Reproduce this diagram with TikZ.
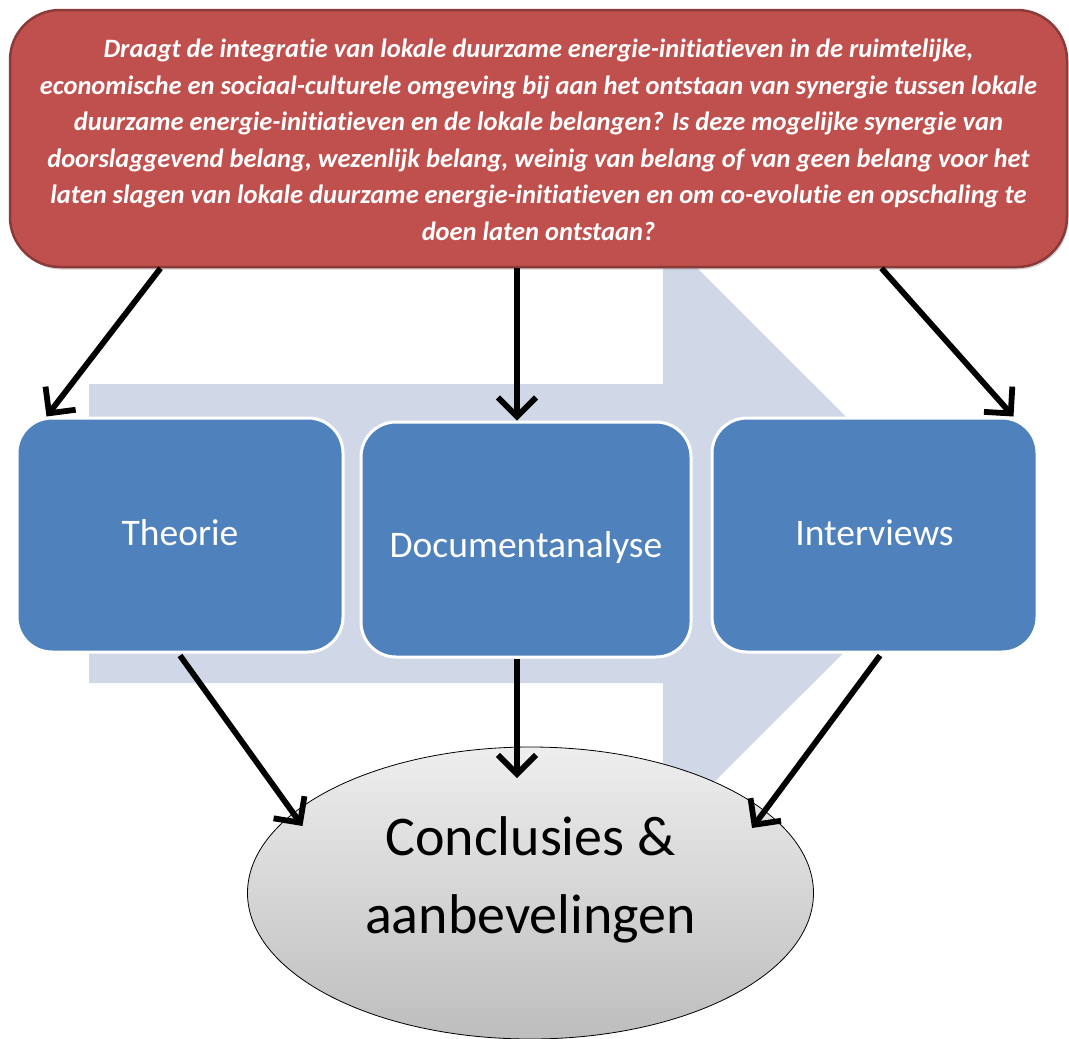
\documentclass[tikz,border=0pt]{standalone}
\usepackage{fontspec}
\setmainfont{Carlito}[Ligatures=NoCommon]
\usetikzlibrary{arrows.meta,shapes.geometric,shadows}
\definecolor{redfill}{HTML}{C0504D}
\definecolor{redborder}{HTML}{8C3A38}
\definecolor{bluefill}{HTML}{4F81BD}
\definecolor{bgarrow}{HTML}{D0D8E8}
\definecolor{elltop}{HTML}{EEEEEE}
\definecolor{ellbot}{HTML}{BDBDBD}
\tikzset{
  question/.style={draw=redborder, line width=2.5pt, fill=redfill, rounded corners=50pt,
    minimum width=1057pt, minimum height=257pt, inner sep=0pt, align=center,
    text=white, font=\fontsize{26.5}{36.5}\selectfont\bfseries\itshape,
    drop shadow={shadow xshift=1.5pt, shadow yshift=-2.5pt, opacity=0.35}},
  method/.style={draw=white, line width=3pt, fill=bluefill, rounded corners=35pt,
    inner sep=0pt, text=white, font=\fontsize{37.5}{44}\selectfont},
  result/.style={ellipse, draw=black, line width=0.8pt, top color=elltop, bottom color=ellbot,
    minimum width=566pt, minimum height=292pt, inner sep=0pt,
    font=\fontsize{56}{78}\selectfont},
  conn/.style={line width=5.8pt, -{Straight Barb[length=19pt,width=38pt]}}
}
\begin{document}
\begin{tikzpicture}[x=1pt,y=-1pt]
\useasboundingbox (0,0) rectangle (1069,1039);
% background arrow
\fill[bgarrow] (89,384) -- (663,384) -- (663,234) -- (963,533.5) -- (663,833) -- (663,683) -- (89,683) -- cycle;
% question box
\node[question] (q) at (538.5,138.5) {\raisebox{-9.6pt}[0pt][0pt]{\begin{tabular}{@{}c@{}}Draagt de integratie van lokale duurzame energie-initiatieven in de ruimtelijke,\\
economische en sociaal-culturele omgeving bij aan het ontstaan van synergie tussen lokale\\
duurzame energie-initiatieven en de lokale belangen? Is deze mogelijke synergie van\\
doorslaggevend belang, wezenlijk belang, weinig van belang of van geen belang voor het\\
laten slagen van lokale duurzame energie-initiatieven en om co-evolutie en opschaling te\\
doen laten ontstaan?\end{tabular}}};
% method boxes
\node[method, minimum width=326pt, minimum height=234pt] (theo) at (180,535) {\raisebox{-10pt}[0pt][0pt]{Theorie}};
\node[method, minimum width=330pt, minimum height=235pt] (doc) at (526,539.5) {\raisebox{-17.5pt}[0pt][0pt]{Documentanalyse}};
\node[method, minimum width=325pt, minimum height=234pt] (int) at (874.5,535) {\raisebox{-10pt}[0pt][0pt]{Interviews}};
% result ellipse
\node[result] (res) at (530.5,893) {\raisebox{8pt}[0pt][0pt]{\begin{tabular}{@{}c@{}}Conclusies \&\\aanbevelingen\end{tabular}}};
% connectors
\draw[conn] ([xshift=-378pt]q.south) -- ([xshift=31pt]theo.north west);
\draw[conn] ([xshift=-21.5pt]q.south) -- ([xshift=-9pt]doc.north);
\draw[conn] ([xshift=343pt]q.south) -- ([xshift=-25pt]int.north east);
\draw[conn] ([yshift=-2pt]theo.south) -- ([xshift=-228pt,yshift=67pt]res.center);
\draw[conn] ([xshift=-9pt]doc.south) -- ([xshift=-13.5pt,yshift=115pt]res.center);
\draw[conn] ([xshift=5.5pt,yshift=-2pt]int.south) -- ([xshift=221.5pt,yshift=65pt]res.center);
\end{tikzpicture}
\end{document}
